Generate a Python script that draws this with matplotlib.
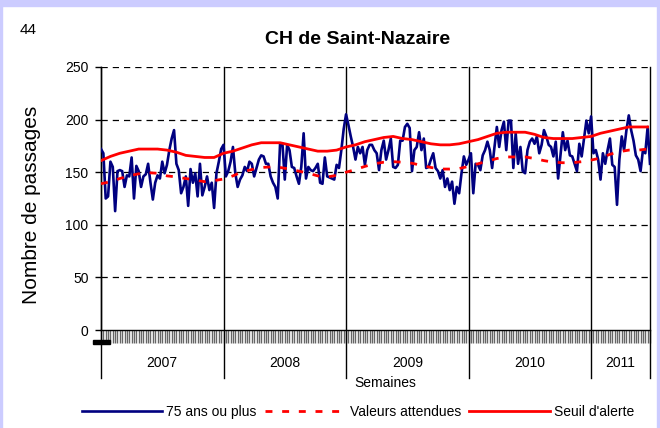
import matplotlib.pyplot as plt
from matplotlib.patches import Rectangle
import numpy as np

plt.rcParams['font.family'] = ['Liberation Sans', 'DejaVu Sans']

# weekly counts, 75 ans ou plus
y2007 = [172, 168, 125, 127, 160, 155, 113, 151, 152, 151,
         136, 147, 146, 164, 125, 156, 151, 136, 146, 148,
         158, 140, 124, 140, 147, 144, 160, 149, 157, 171,
         182, 190, 158, 152, 130, 136, 146, 118, 153, 140,
         149, 127, 158, 128, 136, 146, 133, 140, 116, 149,
         160, 172]
y2008 = [176, 146, 151, 160, 174, 149, 136, 143, 147, 155,
         151, 160, 158, 146, 154, 162, 166, 165, 158, 158,
         146, 140, 136, 125, 177, 177, 143, 176, 171, 155,
         154, 146, 139, 155, 187, 144, 155, 152, 151, 154,
         158, 140, 139, 164, 146, 145, 144, 143, 157, 154,
         171, 191]
y2009 = [205, 195, 184, 174, 162, 174, 168, 174, 157, 171,
         176, 176, 171, 168, 152, 171, 180, 162, 171, 182,
         155, 154, 157, 180, 180, 193, 196, 192, 151, 171,
         174, 188, 171, 182, 154, 155, 162, 168, 154, 151,
         144, 152, 136, 144, 133, 141, 120, 136, 130, 149,
         165, 157]
y2010 = [162, 168, 130, 158, 157, 152, 166, 171, 179, 171,
         154, 174, 193, 174, 190, 198, 171, 199, 199, 154,
         187, 158, 174, 151, 149, 171, 179, 182, 177, 184,
         168, 176, 190, 184, 176, 174, 165, 179, 144, 166,
         188, 171, 180, 166, 165, 158, 151, 177, 165, 182,
         199, 187]
y2011 = [203, 168, 171, 162, 143, 168, 158, 171, 182, 157,
         155, 119, 162, 184, 171, 190, 204, 190, 180, 166,
         162, 151, 171, 168, 193, 158]

# expected values and alert threshold, read every 4 weeks
attendues = [139, 141, 144, 146.5, 148.5, 149.5, 149, 146.5, 145.5, 144,
             142.5, 141, 142, 143.5, 146.5, 150.5, 152.5, 154.5, 155, 154.5,
             153, 151, 149, 146.5, 145.5, 147, 150, 152.5, 155.5, 158,
             159.5, 160, 159.5, 158.5, 156.5, 154.5, 153, 153, 153.5, 155.5,
             158, 160.5, 163, 164.5, 164.5, 164.5, 163, 161, 159.5, 159,
             159, 160, 161.5, 163.5, 167, 169.5, 171, 171, 172]
seuil = [161, 165, 168, 170, 172, 172, 172, 171, 169, 166,
         165, 164, 164, 168, 170, 173, 176, 178, 178, 178,
         176, 174, 172, 170, 170, 171, 174, 176, 179, 181,
         183, 184, 182, 181, 179, 177, 176, 176, 177, 179,
         181, 184, 187, 188, 188, 188, 186, 183, 182, 182,
         182, 183, 184, 187, 189, 191, 193, 193, 193]

years = ['2007', '2008', '2009', '2010', '2011']
year_data = [y2007, y2008, y2009, y2010, y2011]

passages = np.concatenate(year_data)
weeks = np.arange(len(passages))
weeks4 = np.arange(len(seuil)) * 4
bounds = np.cumsum([0] + [len(d) for d in year_data])
bounds[-1] = bounds[-1] - 1

fig = plt.figure(figsize=(6.6, 4.28), dpi=100)
ax = fig.add_axes([101/660, 1 - 330/428, 549/660, 263/428])

# lavender frame
fig.patches.append(Rectangle((0, 1 - 6/428), 1, 6/428, transform=fig.transFigure,
                             color='#ccccff', zorder=0))
fig.patches.append(Rectangle((0, 0), 2/660, 1, transform=fig.transFigure,
                             color='#ccccff', zorder=0))
fig.patches.append(Rectangle((1 - 3/660, 0), 3/660, 1, transform=fig.transFigure,
                             color='#ccccff', zorder=0))
fig.patches.append(Rectangle((93/660, 1 - 344/428), 17/660, 4/428, transform=fig.transFigure,
                             color='black', zorder=5))

for v in [50, 100, 150, 200, 250]:
    ax.axhline(v, color='black', lw=0.9, linestyle=(0, (5, 4)), zorder=1)

for b in bounds:
    ax.axvline(b, ymin=-0.1825, ymax=1, color='black', lw=1, clip_on=False, zorder=2)

ax.plot(weeks, passages, color='#000080', lw=1.9, label='75 ans ou plus', zorder=3)
ax.plot(weeks4, attendues, color='red', lw=2, linestyle=(0, (2.5, 3.5)),
        label='Valeurs attendues', zorder=4)
ax.plot(weeks4, seuil, color='red', lw=2, label="Seuil d'alerte", zorder=4)

ax.set_xlim(0, bounds[-1])
ax.set_ylim(0, 250)
ax.set_yticks([0, 50, 100, 150, 200, 250])
ax.tick_params(axis='y', labelsize=10, length=4, width=1, pad=5)
ax.set_xticks(weeks)
ax.set_xticklabels([])
ax.tick_params(axis='x', length=9.5, width=1, color='#666666')

for s in ['top', 'right']:
    ax.spines[s].set_visible(False)
ax.spines['bottom'].set_linewidth(1)
ax.spines['left'].set_linewidth(1)

for i, yr in enumerate(years):
    xm = (bounds[i] + bounds[i + 1]) / 2
    ax.text(xm, -0.125, yr, transform=ax.get_xaxis_transform(), ha='center',
            va='center', fontsize=10)

fig.text(385/660, 1 - 383/428, 'Semaines', ha='center', va='center', fontsize=10)
fig.text(32/660, 1 - 205/428, 'Nombre de passages', rotation=90, ha='center',
         va='center', fontsize=15)
fig.text(20/660, 1 - 30/428, '44', ha='left', va='center', fontsize=11)
fig.text(358/660, 1 - 40/428, 'CH de Saint-Nazaire', ha='center', va='center',
         fontsize=14, fontweight='bold')

fig.legend(loc='center', bbox_to_anchor=(358/660, 1 - 412/428), ncol=3,
           frameon=False, fontsize=10, handlelength=5.8, handletextpad=0.3,
           columnspacing=0.6)

plt.savefig('out.png', dpi=100)
